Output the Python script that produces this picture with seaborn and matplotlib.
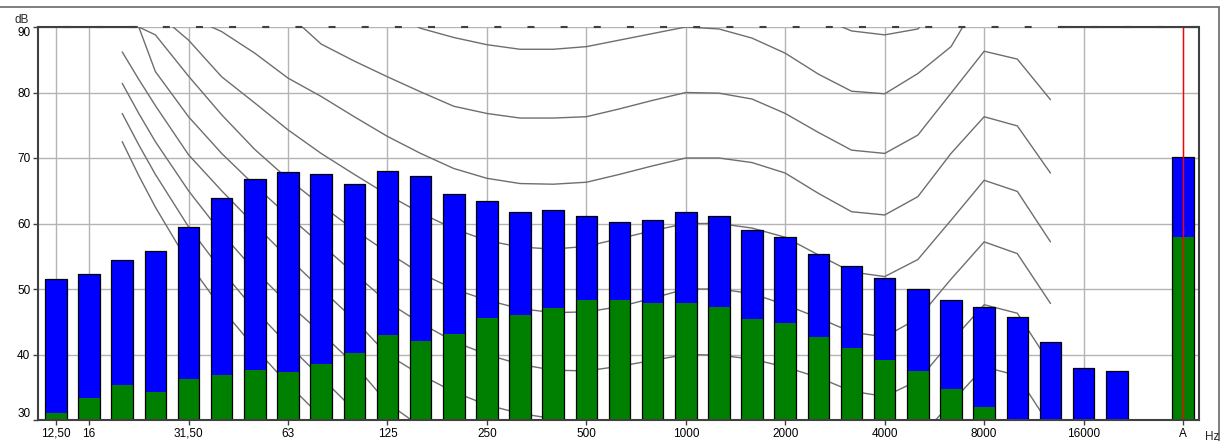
import numpy as np
import pandas as pd
import matplotlib.pyplot as plt
import seaborn as sns
from matplotlib.lines import Line2D

nan = np.nan

# third-octave bands 12.5 Hz .. 20 kHz, slot 33 left empty, then the A total
band_pos = list(range(33)) + [34]
level_total = [51.5, 52.3, 54.5, 55.8, 59.5, 63.9, 66.8, 67.8, 67.6, 66.1,
               68.0, 67.3, 64.5, 63.5, 61.7, 62.0, 61.1, 60.3, 60.5, 61.8,
               61.2, 59.0, 57.9, 55.4, 53.5, 51.7, 50.0, 48.3, 47.2, 45.7,
               41.9, 38.0, 37.5, 70.1]
level_low = [31.0, 33.3, 35.4, 34.3, 36.2, 36.9, 37.6, 37.3, 38.6, 40.3,
             43.0, 42.1, 43.1, 45.5, 46.1, 47.1, 48.3, 48.3, 47.8, 47.8,
             47.3, 45.4, 44.8, 42.7, 41.0, 39.2, 37.5, 34.7, 32.0, 0.0,
             0.0, 0.0, 0.0, 57.9]

tick_pos = [0, 1, 4, 7, 10, 13, 16, 19, 22, 25, 28, 31, 34]
tick_labels = ['12,50', '16', '31,50', '63', '125', '250', '500', '1000',
               '2000', '4000', '8000', '16000', 'A']

# background rating curves, sampled on the band axis
curve_pos = [2, 2.5, 3, 4, 5, 6, 7, 8, 9, 10, 11, 12, 13, 14, 15, 16, 17, 18,
             19, 20, 21, 22, 23, 24, 25, 26, 27, 28, 29, 30]
curve_0 = [nan] * 21 + [94, 91.5, 89.4, 88.8, 89.7, 95, nan, nan, nan]
curve_1 = [nan] * 8 + [96, 92.5, 89.8, 88.4, 87.3, 86.6, 86.6, 87.0, 88.0, 89.0,
                       90.0, 89.7, 88.3, 86.0, 82.8, 80.2, 79.8, 82.9, 87.0,
                       95.5, 94.5, 91.0]
curve_2 = [nan] * 6 + [92, 87.4, 84.8, 82.4, 80.1, 77.9, 76.8, 76.1, 76.1, 76.3,
                       77.5, 78.8, 80.0, 79.9, 79.0, 76.8, 73.9, 71.2, 70.7,
                       73.5, 79.9, 86.3, 85.1, 78.9]
curve_3 = [nan] * 2 + [97, 91.6, 89.3, 86.0, 82.2, 79.4, 76.3, 73.3, 70.7, 68.4,
                       66.9, 66.1, 66.0, 66.3, 67.5, 68.8, 70.0, 70.0, 69.3,
                       67.7, 64.6, 61.8, 61.3, 64.1, 70.7, 76.3, 74.9, 67.7]
curve_4 = [nan, 96, 92.3, 88.0, 82.4, 78.4, 74.3, 70.7, 67.5, 64.4, 61.6, 59.2,
           57.4, 56.4, 56.1, 56.5, 57.7, 58.9, 60.0, 60.0, 59.3, 57.9, 55.2,
           52.6, 51.9, 54.5, 60.5, 66.6, 64.9, 57.2]
curve_5 = [94, 90, 88.8, 82.5, 76.6, 71.3, 66.8, 62.8, 59.0, 55.6, 52.4, 50.0,
           48.3, 47.0, 46.4, 46.5, 47.3, 48.6, 50.0, 50.0, 49.3, 47.6, 45.6,
           43.4, 42.7, 45.5, 51.5, 57.2, 55.4, 47.8]
curve_6 = [100, 90, 83.2, 76.3, 70.7, 65.8, 61.2, 56.8, 52.4, 48.0, 44.8, 42.0,
           40.0, 38.5, 37.6, 37.5, 38.2, 39.1, 40.0, 39.9, 39.3, 38.1, 36.5,
           34.4, 33.6, 36.0, 42.0, 47.6, 46.3, 38.5]
curve_7 = [86.2, 82.0, 78.0, 70.5, 65.0, 59.8, 54.8, 50.0, 45.3, 40.0, 36.9,
           34.3, 32.3, 31.0, 30.2, 29.8, 29.8, 29.9, 30.0, 30.0, 29.4, 28.4,
           26.8, 25.0, 24.3, 27.0, 32.6, 38.1, 36.8, 29.0]
curve_8 = [81.4, 76.8, 72.5, 65.0, 58.5, 52.8, 47.8, 43.3, 38.5, 32.6, 29.0,
           26.5] + [nan] * 18
curve_9 = [76.8, 72.0, 67.5, 59.5, 52.8, 46.8, 41.5, 36.5, 31.5, 26.0] + [nan] * 20
curve_10 = [72.5, 67.3, 62.5, 54.0, 47.0, 41.0, 35.5, 30.5, 25.0] + [nan] * 21

curves = [curve_0, curve_1, curve_2, curve_3, curve_4, curve_5, curve_6,
          curve_7, curve_8, curve_9, curve_10]

sns.set_theme(style='white')
plt.rcParams['font.family'] = ['Liberation Sans', 'DejaVu Sans']
plt.rcParams['lines.scale_dashes'] = False

W, H = 1230, 441
fig = plt.figure(figsize=(W / 100, H / 100), dpi=100)
ax = fig.add_axes([38 / W, (H - 420) / H, (1199 - 38) / W, (420 - 27) / H])

bars = pd.DataFrame({'pos': band_pos, 'total': level_total, 'low': level_low})
lines = pd.concat([pd.DataFrame({'pos': curve_pos, 'level': c, 'curve': i})
                   for i, c in enumerate(curves)]).dropna()

sns.lineplot(data=lines, x='pos', y='level', units='curve', estimator=None,
             color='#6e6e6e', linewidth=1, ax=ax)
for ln in ax.lines:
    ln.set_zorder(1)

n = len(band_pos)
sns.barplot(data=bars, x='pos', y='total', native_scale=True, width=0.65,
            color='#0000ff', saturation=1, errorbar=None, linewidth=0, ax=ax)
sns.barplot(data=bars, x='pos', y='low', native_scale=True, width=0.65,
            color='#008000', saturation=1, errorbar=None, linewidth=0, ax=ax)
sns.barplot(data=bars, x='pos', y='total', native_scale=True, width=0.65,
            color='black', fill=False, errorbar=None, linewidth=0.9, ax=ax)
for i, p in enumerate(ax.patches):
    p.set_zorder(2 + i // n)

ax.axvline(34, color='red', linewidth=1, zorder=6)

ax.set_xlim(-0.54, 34.48)
ax.set_ylim(30, 90)
ax.set_xticks(tick_pos)
ax.set_xticklabels(tick_labels)
ax.set_yticks(range(30, 91, 10))
ax.set_xlabel('')
ax.set_ylabel('')
ax.grid(True, color='#b4b4b4', linewidth=1)
ax.set_axisbelow(True)
ax.tick_params(direction='out', length=3.5, width=1, color='#404040',
               labelsize=8.5, pad=2, labelcolor='black')
ax.tick_params(axis='x', bottom=True)
ax.tick_params(axis='y', left=True)
ylabels = ax.get_yticklabels()
ylabels[0].set_va('bottom')
ylabels[-1].set_va('top')

for side in ['left', 'bottom', 'right']:
    ax.spines[side].set_visible(True)
    ax.spines[side].set_color('#404040')
    ax.spines[side].set_linewidth(1.5)
    ax.spines[side].set_zorder(7)
ax.spines['top'].set_visible(False)

# dashed upper edge at 90 dB
ax.axhline(90, color='#404040', linewidth=1.5,
           linestyle=(7.8 * 0.72, (7 * 0.72, 26.15 * 0.72)), zorder=7, clip_on=False)
ax.axhline(90, xmax=0.085, color='#404040', linewidth=1.5, zorder=7, clip_on=False)
ax.axhline(90, xmin=0.88, color='#404040', linewidth=1.5, zorder=7, clip_on=False)

fig.text(14 / W, 1 - 23 / H, 'dB', fontsize=8.5, va='baseline')
fig.text(1205 / W, 1.5 / H, 'Hz', fontsize=8.5, va='baseline')

# outer frame of the panel
fig.add_artist(Line2D([0, 1219 / W], [1 - 7 / H] * 2, color='#6a6a6a', linewidth=1.2))
fig.add_artist(Line2D([1219 / W] * 2, [0, 1 - 7 / H], color='#6a6a6a', linewidth=1.2))

fig.savefig('out.png', dpi=100)
